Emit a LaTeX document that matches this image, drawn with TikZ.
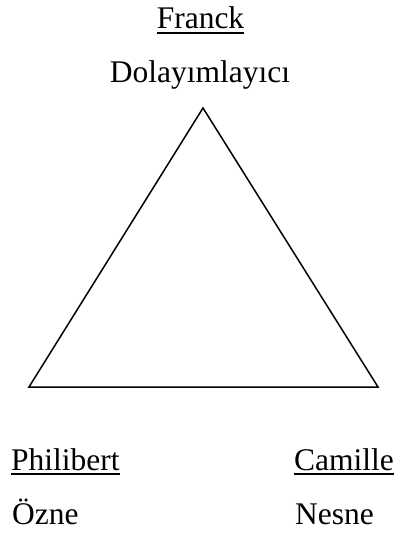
\documentclass[tikz,border=0pt]{standalone}
\usepackage{fontspec}
\setmainfont{Liberation Serif}
\usepackage{tikz}
\usetikzlibrary{
    positioning
}

\begin{document}
\begin{tikzpicture}[
    x=1pt, y=-1pt,
    label/.style={
        inner sep=0pt,
        font=\fontsize{31.5}{38}\selectfont
    },
    uline/.style={
        line width=1.6pt
    },
    side/.style={
        line width=1.5pt,
        line join=miter
    }
]
\useasboundingbox (0,0) rectangle (396,534);

% corners of the triangle
\coordinate (top) at (203,108);
\coordinate (left) at (29,387);
\coordinate (right) at (378,387);

\draw[side] (top) -- (left) -- (right) -- cycle;

% mediator
\node[label, anchor=base] (franck) at (200.5,29) {Franck};
\node[label, anchor=base] (mediator) at (200,83) {Dolayımlayıcı};

% subject
\node[label, anchor=base west] (philibert) at (11,470) {Philibert};
\node[label, anchor=base west] (subject) at (12,524) {Özne};

% object
\node[label, anchor=base west] (camille) at (294,470) {Camille};
\node[label, anchor=base west] (object) at (295,524) {Nesne};

% underlines of the names
\foreach \n in {franck, philibert, camille}
    \draw[uline] ([yshift=-4pt]\n.base west) -- ([yshift=-4pt]\n.base east);

\end{tikzpicture}
\end{document}
